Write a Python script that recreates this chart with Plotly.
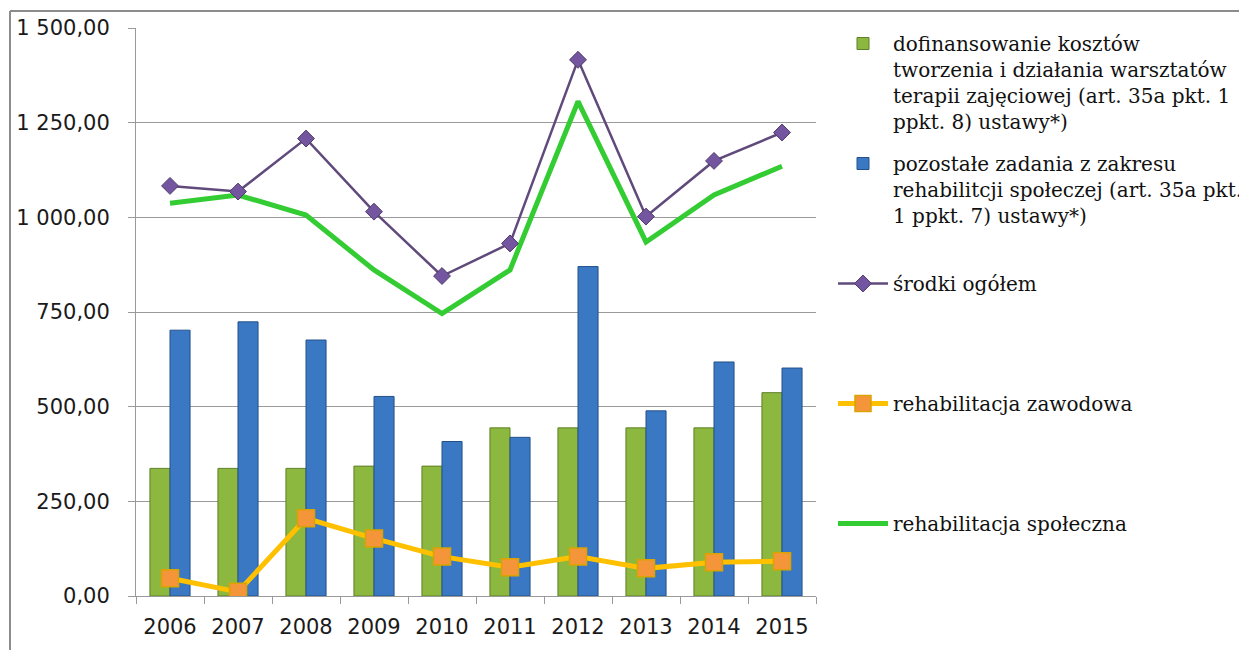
import plotly.graph_objects as go

years = ["2006", "2007", "2008", "2009", "2010", "2011", "2012", "2013", "2014", "2015"]
warsztaty = [337, 337, 337, 343, 343, 444, 444, 444, 444, 537]
pozostale = [702, 724, 676, 527, 408, 419, 870, 489, 618, 602]
ogolem = [1083, 1068, 1208, 1015, 845, 931, 1416, 1002, 1149, 1224]
zawodowa = [47, 11, 205, 152, 104, 76, 104, 73, 89, 92]
spoleczna = [1037, 1059, 1006, 861, 746, 861, 1306, 935, 1059, 1135]

ytickvals = [0, 250, 500, 750, 1000, 1250, 1500]
yticktext = ["0,00", "250,00", "500,00", "750,00", "1 000,00", "1 250,00", "1 500,00"]

names = [
    "dofinansowanie kosztów<br>tworzenia i działania warsztatów<br>terapii zajęciowej (art. 35a pkt. 1<br>ppkt. 8) ustawy*)",
    "pozostałe zadania z zakresu<br>rehabilitcji społeczej (art. 35a pkt.<br>1 ppkt. 7) ustawy*)<br> ",
    "środki ogółem<br> <br> <br> ",
    "rehabilitacja zawodowa<br> <br> <br> ",
    "rehabilitacja społeczna",
]

fig = go.Figure()
fig.add_trace(go.Bar(x=years, y=warsztaty, name=names[0], legendrank=1, legendgroup="a",
                     marker=dict(color="#8db83f", line=dict(color="#5f7f28", width=1))))
fig.add_trace(go.Bar(x=years, y=pozostale, name=names[1], legendrank=2, legendgroup="b",
                     marker=dict(color="#3b78c4", line=dict(color="#24508a", width=1))))
fig.add_trace(go.Scatter(x=years, y=spoleczna, name=names[4], mode="lines", legendrank=5,
                         legendgroup="e", line=dict(color="#33cc33", width=5)))
fig.add_trace(go.Scatter(x=years, y=ogolem, name=names[2], mode="lines+markers", legendrank=3,
                         legendgroup="c", line=dict(color="#604a7b", width=2.5),
                         marker=dict(symbol="diamond", size=13, color="#7456a0",
                                     line=dict(color="#4f3c6a", width=1))))
fig.add_trace(go.Scatter(x=years, y=zawodowa, name=names[3], mode="lines+markers", legendrank=4,
                         legendgroup="d", line=dict(color="#ffc000", width=5),
                         marker=dict(symbol="square", size=17, color="#f5953a",
                                     line=dict(color="#d9a400", width=1.5))))

OFF = 8
L, T = 136 - OFF, 28 - OFF
PW, PH = 680, 568
R = 1247 - L - PW
B = 650 - T - PH

def px_x(p):
    return (p - OFF - L) / PW

def px_y(p):
    return (T + PH - (p - OFF)) / PH

fig.update_layout(
    width=1247, height=650,
    margin=dict(l=L, r=R, t=T, b=B, autoexpand=False),
    paper_bgcolor="white", plot_bgcolor="white",
    barmode="group", bargap=0.41, bargroupgap=0,
    font=dict(family="DejaVu Sans", size=20, color="#1a1a1a"),
    legend=dict(x=px_x(833), y=px_y(24), xanchor="left", yanchor="top",
                valign="top", itemwidth=50, tracegroupgap=13, maxheight=640,
                font=dict(family="DejaVu Serif", size=20, color="#111111"),
                bgcolor="rgba(0,0,0,0)"),
    xaxis=dict(type="category", range=[-0.5, len(years) - 0.5],
               showline=True, linecolor="#9a9a9a", linewidth=1,
               ticks="outside", tickson="boundaries", ticklen=7, tickcolor="#9a9a9a",
               ticklabelstandoff=12,
               showgrid=False, tickfont=dict(family="DejaVu Sans", size=21, color="#1a1a1a")),
    yaxis=dict(range=[0, 1500], tickvals=ytickvals, ticktext=yticktext,
               showline=True, linecolor="#9a9a9a", linewidth=1,
               ticks="outside", ticklen=7, tickcolor="#9a9a9a",
               ticklabelstandoff=14,
               showgrid=True, gridcolor="#9a9a9a", gridwidth=1, zeroline=False,
               tickfont=dict(family="DejaVu Sans", size=21, color="#1a1a1a")),
    shapes=[
        dict(type="line", xref="paper", yref="paper", x0=px_x(10), x1=px_x(10),
             y0=px_y(11), y1=px_y(670), line=dict(color="#8c8c8c", width=2)),
        dict(type="line", xref="paper", yref="paper", x0=px_x(10), x1=px_x(1270),
             y0=px_y(11), y1=px_y(11), line=dict(color="#8c8c8c", width=2)),
    ],
)

fig.write_html("out.html")
